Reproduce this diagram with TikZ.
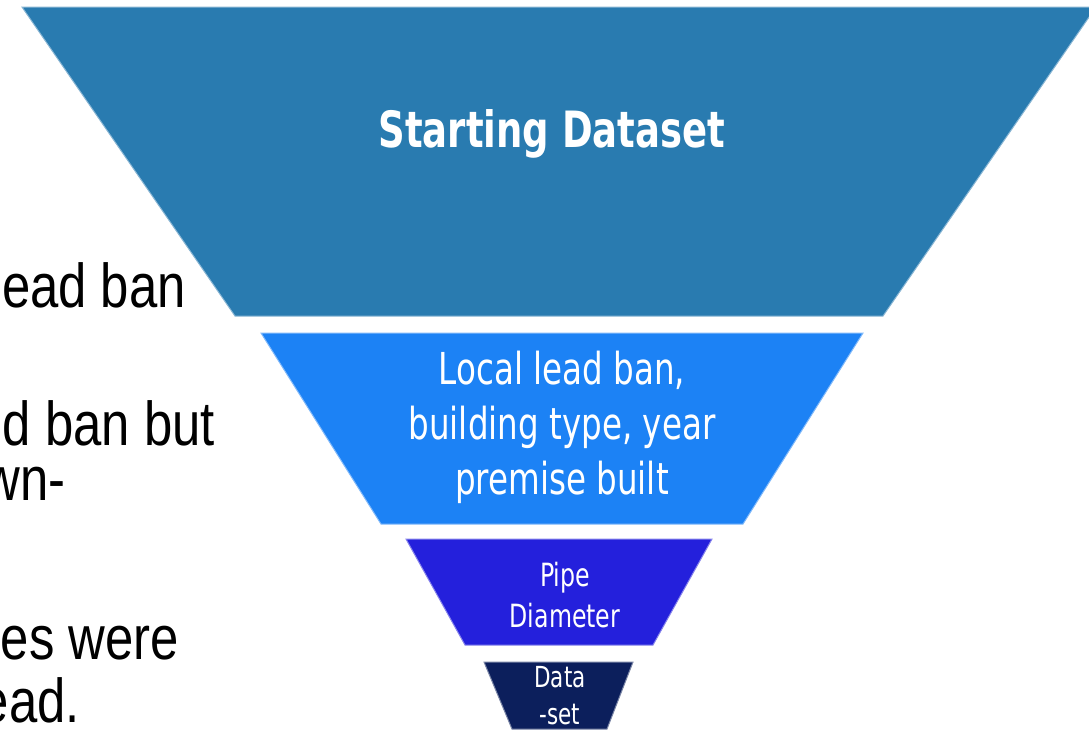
\documentclass[tikz,border=0pt]{standalone}
\usepackage{fontspec}
% narrow sans faces for the funnel labels and the side notes
\newfontfamily\funnelsans[FakeStretch=0.74]{DejaVu Sans}
\newfontfamily\notesans[FakeStretch=0.82]{Liberation Sans}

\definecolor{stageone}{RGB}{41,123,176}
\definecolor{stagetwo}{RGB}{28,130,245}
\definecolor{stagethree}{RGB}{36,32,220}
\definecolor{stagefour}{RGB}{12,31,92}

\begin{document}
\begin{tikzpicture}[x=1pt,y=-1pt,
  stage/.style={fill=#1, draw=#1!55!white, line width=1pt, line join=miter},
  stagelabel/.style={text=white, align=center, inner sep=0pt},
  note/.style={anchor=base east, inner sep=0pt, text=black,
    font=\notesans\fontsize{62}{62}\selectfont}]
\useasboundingbox (0,0) rectangle (1089,731);
\fill[white] (0,0) rectangle (1089,731);
\clip (0,0) rectangle (1089,731);

% funnel stages, widest at the top
\path[stage=stageone]   (22,7)   -- (1096,7)  -- (883,316) -- (235,316) -- cycle;
\path[stage=stagetwo]   (261,333) -- (863,333) -- (743,524) -- (381,524) -- cycle;
\path[stage=stagethree] (406,539) -- (712,539) -- (653,645) -- (465,645) -- cycle;
\path[stage=stagefour]  (484,662) -- (633,662) -- (607,729) -- (512,729) -- cycle;

% stage labels
\node[stagelabel, font=\funnelsans\bfseries\fontsize{50}{50}\selectfont]
  (start) at (552,134) {Starting Dataset};
\node[stagelabel, font=\funnelsans\fontsize{44}{55}\selectfont]
  (filters) at (562,427) {Local lead ban,\\building type, year\\premise built};
\node[stagelabel, font=\funnelsans\fontsize{32}{41}\selectfont]
  (pipe) at (565,595) {Pipe\\Diameter};
\node[stagelabel, font=\funnelsans\fontsize{29}{37}\selectfont]
  (final) at (560,696) {Data\\-set};

% side notes running in from the left edge
\node[note] (noteA) at (186,307) {ead ban};
\node[note] (noteB) at (215,445) {d ban but};
\node[note] (noteC) at (66,500)  {wn-};
\node[note] (noteD) at (179,659) {es were};
\node[note] (noteE) at (80,722)  {ead.};
\end{tikzpicture}
\end{document}
